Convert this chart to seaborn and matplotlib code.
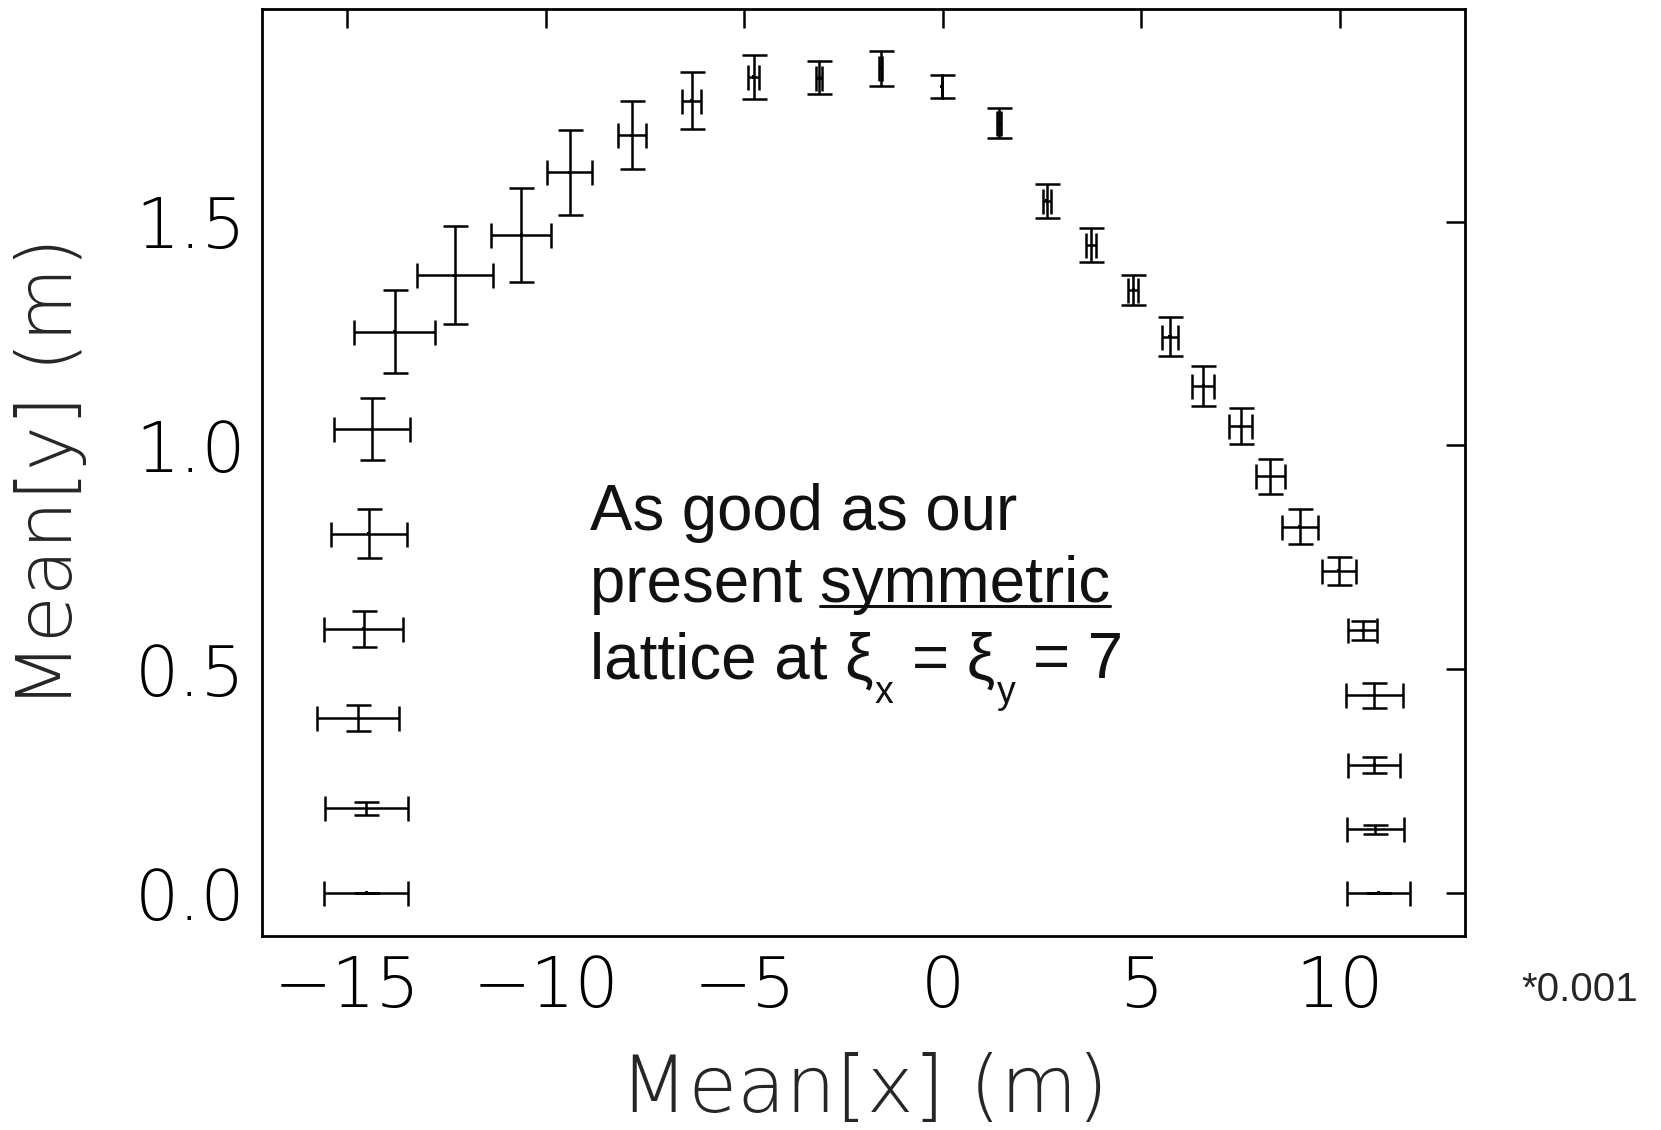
#!/usr/bin/env python3
"""
Mean[y] vs Mean[x] with error crosses
"""

import pandas as pd
import matplotlib.pyplot as plt
from matplotlib.lines import Line2D
import seaborn as sns

# beam centroid data (x in units of 0.001 m)
mean_x = [-14.53, -14.52, -14.73, -14.59, -14.46, -14.39, -13.81, -12.29,
          -10.62, -9.40, -7.84, -6.33, -4.77, -3.12, -1.57, -0.03,
          1.42, 2.61, 3.74, 4.79, 5.72, 6.56, 7.50, 8.25, 8.99, 9.97,
          10.57, 10.87, 10.86, 10.89, 10.97]
mean_y = [0.000, 0.189, 0.390, 0.590, 0.803, 1.036, 1.254, 1.380,
          1.470, 1.610, 1.693, 1.770, 1.823, 1.821, 1.842, 1.802,
          1.720, 1.547, 1.447, 1.347, 1.243, 1.133, 1.043, 0.931, 0.818, 0.720,
          0.587, 0.442, 0.286, 0.142, 0.000]
err_x = [1.06, 1.04, 1.03, 0.99, 0.95, 0.96, 1.02, 0.96,
         0.76, 0.56, 0.35, 0.23, 0.135, 0.07, 0.03, 0.0,
         0.05, 0.10, 0.126, 0.134, 0.20, 0.28, 0.285, 0.357, 0.453, 0.432,
         0.374, 0.709, 0.646, 0.722, 0.80]
err_y = [0.000, 0.015, 0.029, 0.041, 0.054, 0.069, 0.092, 0.109,
         0.105, 0.095, 0.076, 0.064, 0.050, 0.037, 0.039, 0.026,
         0.033, 0.038, 0.038, 0.034, 0.043, 0.045, 0.040, 0.039, 0.039, 0.031,
         0.021, 0.028, 0.017, 0.010, 0.000]

x_ticks = [-15, -10, -5, 0, 5, 10]
y_ticks = [0.0, 0.5, 1.0, 1.5]
note_lines = ["As good as our", "present ", "symmetric", "lattice at ξ"]
# pieces of the last line: (text, is_subscript, gap before in points)
chrom_parts = [("x", True, 0), ("= ξ", False, 13), ("y", True, 0), ("= 7", False, 13)]


def make_plot():
    sns.set_style("white")
    plt.rcParams['font.family'] = ['DejaVu Sans']

    df = pd.DataFrame({'x': mean_x, 'y': mean_y, 'ex': err_x, 'ey': err_y})

    fig = plt.figure(figsize=(16.61, 11.30), dpi=100)
    ax = fig.add_axes([0.158, 0.1717, 0.724, 0.8204])

    ax.errorbar(df['x'], df['y'], xerr=df['ex'], yerr=df['ey'], fmt='none',
                ecolor='black', elinewidth=1.8, capsize=9, capthick=1.8)
    sns.scatterplot(data=df, x='x', y='y', marker='s', s=5, color='black',
                    edgecolor='none', ax=ax, legend=False)

    ax.set_xlim(-17.14, 13.15)
    ax.set_ylim(-0.096, 1.975)
    ax.set_xticks(x_ticks)
    ax.set_yticks(y_ticks)
    ax.set_xticklabels([str(t).replace('-', '\u2212') for t in x_ticks])
    ax.set_yticklabels([f"{t:.1f}" for t in y_ticks])
    ax.tick_params(direction='in', length=14, width=1.8, top=True, right=True,
                   labelsize=50, colors='black')
    ax.tick_params(axis='x', pad=13)
    ax.tick_params(axis='y', pad=12)
    for lab in ax.get_xticklabels() + ax.get_yticklabels():
        lab.set_fontweight('light')
    for s in ax.spines.values():
        s.set_linewidth(2.0)
        s.set_color('black')

    ax.set_xlabel('Mean[x] (m)', fontsize=57, fontweight='light')
    ax.set_ylabel('Mean[y] (m)', fontsize=55, fontweight='light')
    ax.xaxis.set_label_coords(0.5, -0.125)
    ax.yaxis.set_label_coords(-0.145, 0.5)

    fig.text(1521 / 1661, 1 - 990 / 1130, '*0.001', fontsize=29,
             family='Liberation Sans', va='center', ha='left')

    # annotation
    tx = -8.89
    kw = dict(fontsize=45.8, family='Liberation Sans', color='#111111',
              va='baseline', ha='left')
    ax.text(tx, 0.811, note_lines[0], **kw)
    t_full = ax.text(tx, 0.650, note_lines[1] + note_lines[2], **kw)
    t_sym = ax.text(tx, 0.650, note_lines[2], alpha=0, **kw)
    prev = ax.text(tx, 0.480, note_lines[3], **kw)
    for txt, sub, gap in chrom_parts:
        if sub:
            prev = ax.annotate(txt, xy=(1, 0.480), xycoords=(prev, 'data'),
                               xytext=(1, -18), textcoords='offset points',
                               fontsize=27, family='Liberation Sans',
                               color='#111111', va='baseline', ha='left')
        else:
            prev = ax.annotate(txt, xy=(1, 0.480), xycoords=(prev, 'data'),
                               xytext=(gap, 0), textcoords='offset points', **kw)

    fig.canvas.draw()
    r = fig.canvas.get_renderer()
    bb_full = t_full.get_window_extent(r)
    bb_sym = t_sym.get_window_extent(r)
    t_sym.remove()
    base = ax.transData.transform((tx, 0.650))[1]
    inv = ax.transData.inverted()
    p0 = inv.transform((bb_full.x1 - bb_sym.width, base - 4))
    p1 = inv.transform((bb_full.x1, base - 4))
    ax.add_line(Line2D([p0[0], p1[0]], [p0[1], p1[1]], color='#111111', lw=2.2))

    plt.savefig('out.png', dpi=100)
    plt.close()


if __name__ == "__main__":
    make_plot()
